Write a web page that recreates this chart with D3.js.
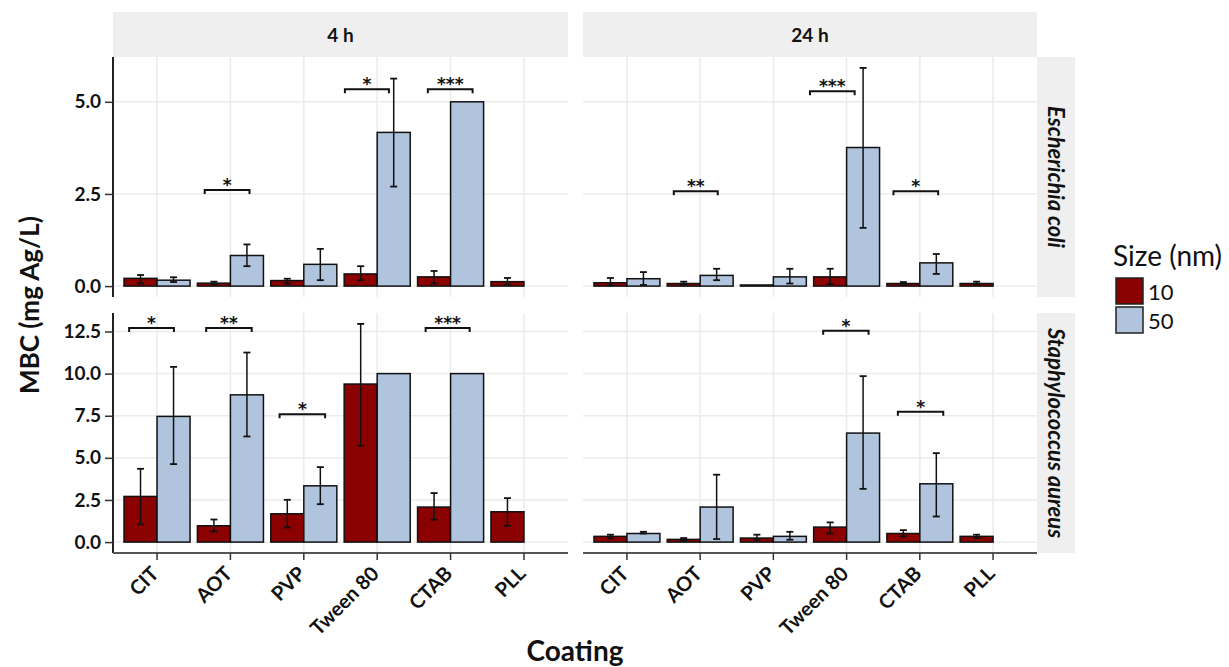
<!DOCTYPE html>
<html>
<head>
<meta charset="utf-8">
<script src="https://cdn.jsdelivr.net/npm/d3@7"></script>
<style>
  html, body { margin: 0; padding: 0; background: #fff; }
  svg { display: block; font-family: Lato, "Open Sans", sans-serif; }
</style>
</head>
<body>
<svg id="chart" width="1229" height="667"></svg>
<script>
// ---------------- data ----------------
const coatings = ["CIT", "AOT", "PVP", "Tween 80", "CTAB", "PLL"];
const sizes = ["10", "50"];
const times = ["4 h", "24 h"];
const organisms = ["Escherichia coli", "Staphylococcus aureus"];

const yTicksEcoli = [0, 2.5, 5.0];
const yTicksSaureus = [0, 2.5, 5.0, 7.5, 10.0, 12.5];

// E. coli, 4 h
const ecoli4h_10 = [0.21, 0.08, 0.15, 0.33, 0.25, 0.12];
const ecoli4h_10_err = [[0.07, 0.30], [0.05, 0.12], [0.07, 0.20], [0.16, 0.54], [0.07, 0.41], [0.04, 0.22]];
const ecoli4h_50 = [0.16, 0.83, 0.59, 4.17, 5.00, null];
const ecoli4h_50_err = [[0.11, 0.24], [0.54, 1.13], [0.16, 1.01], [2.70, 5.63], null, null];

// E. coli, 24 h
const ecoli24h_10 = [0.09, 0.07, 0.03, 0.25, 0.07, 0.07];
const ecoli24h_10_err = [[0.02, 0.22], [0.04, 0.12], null, [0.05, 0.47], [0.05, 0.11], [0.04, 0.12]];
const ecoli24h_50 = [0.20, 0.29, 0.25, 3.76, 0.63, null];
const ecoli24h_50_err = [[0.03, 0.38], [0.16, 0.47], [0.07, 0.47], [1.58, 5.92], [0.33, 0.87], null];

// S. aureus, 4 h
const saureus4h_10 = [2.71, 0.97, 1.68, 9.38, 2.08, 1.80];
const saureus4h_10_err = [[1.05, 4.35], [0.63, 1.34], [0.87, 2.51], [5.72, 12.95], [1.33, 2.91], [0.97, 2.61]];
const saureus4h_50 = [7.46, 8.74, 3.34, 10.0, 10.0, null];
const saureus4h_50_err = [[4.63, 10.40], [6.27, 11.25], [2.25, 4.45], null, null, null];

// S. aureus, 24 h
const saureus24h_10 = [0.34, 0.16, 0.24, 0.89, 0.51, 0.34];
const saureus24h_10_err = [[0.22, 0.44], [0.08, 0.24], [0.14, 0.44], [0.51, 1.17], [0.34, 0.71], [0.24, 0.44]];
const saureus24h_50 = [0.51, 2.08, 0.34, 6.47, 3.46, null];
const saureus24h_50_err = [[0.51, 0.61], [0.18, 4.00], [0.14, 0.61], [3.16, 9.85], [1.52, 5.28], null];

// significance brackets: organism index, time index, coating, height (mg Ag/L),
// start/end offsets in coating units relative to the coating position, label
const sigBrackets = [
  { org: 0, time: 0, coating: "AOT",      y: 2.61,  x1: -0.35, x2: 0.26, label: "*" },
  { org: 0, time: 0, coating: "Tween 80", y: 5.34,  x1: -0.44, x2: 0.16, label: "*" },
  { org: 0, time: 0, coating: "CTAB",     y: 5.34,  x1: -0.31, x2: 0.30, label: "***" },
  { org: 0, time: 1, coating: "AOT",      y: 2.57,  x1: -0.36, x2: 0.24, label: "**" },
  { org: 0, time: 1, coating: "Tween 80", y: 5.29,  x1: -0.50, x2: 0.11, label: "***" },
  { org: 0, time: 1, coating: "CTAB",     y: 2.57,  x1: -0.36, x2: 0.25, label: "*" },
  { org: 1, time: 0, coating: "CIT",      y: 12.70, x1: -0.38, x2: 0.23, label: "*" },
  { org: 1, time: 0, coating: "AOT",      y: 12.70, x1: -0.33, x2: 0.29, label: "**" },
  { org: 1, time: 0, coating: "PVP",      y: 7.59,  x1: -0.33, x2: 0.29, label: "*" },
  { org: 1, time: 0, coating: "CTAB",     y: 12.70, x1: -0.34, x2: 0.26, label: "***" },
  { org: 1, time: 1, coating: "Tween 80", y: 12.54, x1: -0.32, x2: 0.30, label: "*" },
  { org: 1, time: 1, coating: "CTAB",     y: 7.73,  x1: -0.30, x2: 0.32, label: "*" }
];

// assemble table
const series = [
  [ // E. coli
    [[ecoli4h_10, ecoli4h_10_err], [ecoli4h_50, ecoli4h_50_err]],
    [[ecoli24h_10, ecoli24h_10_err], [ecoli24h_50, ecoli24h_50_err]]
  ],
  [ // S. aureus
    [[saureus4h_10, saureus4h_10_err], [saureus4h_50, saureus4h_50_err]],
    [[saureus24h_10, saureus24h_10_err], [saureus24h_50, saureus24h_50_err]]
  ]
];
const yTicksByOrg = [yTicksEcoli, yTicksSaureus];

// ---------------- layout ----------------
const colX = [[113, 568], [583, 1037]];
const rowY = [[57, 297], [313, 553]];
const stripTop = [12, 57];
const stripRight = [1037, 1075];
const colors = { "10": "#8B0000", "50": "#B0C4DE" };
const gridColor = "#ebebeb";
const textColor = "#111";

const svg = d3.select("#chart");

// y scales per organism row
const yScales = organisms.map((o, r) => {
  let m = 0;
  series[r].forEach(t => t.forEach(([vals, errs]) => {
    vals.forEach(v => { if (v != null) m = Math.max(m, v); });
    errs.forEach(e => { if (e) m = Math.max(m, e[1]); });
  }));
  return d3.scaleLinear().domain([-0.05 * m, 1.05 * m]).range([rowY[r][1], rowY[r][0]]);
});

// x scales per time column
const xScales = times.map((t, c) =>
  d3.scaleBand().domain(coatings).range(colX[c]).paddingInner(0.1).paddingOuter(0.15));
const xSub = xScales.map(x => d3.scaleBand().domain(sizes).range([0, x.bandwidth()]));
const xCenter = (c, coating) => xScales[c](coating) + xScales[c].bandwidth() / 2;
const step = c => xScales[c].step();

// top strips
times.forEach((t, c) => {
  svg.append("rect").attr("x", colX[c][0]).attr("y", stripTop[0])
    .attr("width", colX[c][1] - colX[c][0]).attr("height", stripTop[1] - stripTop[0])
    .attr("fill", "#efefef");
  svg.append("text").attr("x", (colX[c][0] + colX[c][1]) / 2).attr("y", (stripTop[0] + stripTop[1]) / 2)
    .attr("text-anchor", "middle").attr("dominant-baseline", "central")
    .attr("font-weight", "bold").attr("font-size", 19).attr("fill", textColor).text(t);
});
// right strips
organisms.forEach((o, r) => {
  svg.append("rect").attr("x", stripRight[0]).attr("y", rowY[r][0])
    .attr("width", stripRight[1] - stripRight[0]).attr("height", rowY[r][1] - rowY[r][0])
    .attr("fill", "#efefef");
  const cx = (stripRight[0] + stripRight[1]) / 2, cy = (rowY[r][0] + rowY[r][1]) / 2;
  svg.append("text").attr("transform", `translate(${cx},${cy}) rotate(90)`)
    .attr("text-anchor", "middle").attr("dominant-baseline", "central")
    .attr("font-weight", "bold").attr("font-style", "italic").attr("font-size", 22)
    .attr("fill", textColor).text(o);
});

// panels
organisms.forEach((o, r) => {
  times.forEach((t, c) => {
    const x = xScales[c], y = yScales[r], xs = xSub[c];
    const g = svg.append("g");
    // grid
    g.selectAll(".hg").data(yTicksByOrg[r]).join("line")
      .attr("x1", colX[c][0]).attr("x2", colX[c][1])
      .attr("y1", d => y(d)).attr("y2", d => y(d))
      .attr("stroke", gridColor).attr("stroke-width", 1.5);
    g.selectAll(".vg").data(coatings).join("line")
      .attr("x1", d => xCenter(c, d)).attr("x2", d => xCenter(c, d))
      .attr("y1", rowY[r][0]).attr("y2", rowY[r][1])
      .attr("stroke", gridColor).attr("stroke-width", 1.5);

    // bars
    const rows = [];
    sizes.forEach((s, si) => {
      const [vals, errs] = series[r][c][si];
      coatings.forEach((cat, i) => {
        if (vals[i] != null) rows.push({ cat, size: s, v: vals[i], err: errs[i] });
      });
    });
    g.selectAll(".bar").data(rows).join("rect")
      .attr("x", d => x(d.cat) + xs(d.size))
      .attr("width", xs.bandwidth())
      .attr("y", d => y(d.v))
      .attr("height", d => y(0) - y(d.v))
      .attr("fill", d => colors[d.size])
      .attr("stroke", "#111").attr("stroke-width", 1.5);

    // error bars
    const eb = rows.filter(d => d.err);
    const cap = 3.5;
    const cxOf = d => x(d.cat) + xs(d.size) + xs.bandwidth() / 2;
    g.selectAll(".ev").data(eb).join("line")
      .attr("x1", cxOf).attr("x2", cxOf)
      .attr("y1", d => y(d.err[0])).attr("y2", d => y(d.err[1]))
      .attr("stroke", "#111").attr("stroke-width", 1.5);
    ["0", "1"].forEach(k => {
      g.selectAll(".ec" + k).data(eb).join("line")
        .attr("x1", d => cxOf(d) - cap).attr("x2", d => cxOf(d) + cap)
        .attr("y1", d => y(d.err[+k])).attr("y2", d => y(d.err[+k]))
        .attr("stroke", "#111").attr("stroke-width", 1.8);
    });

    // brackets
    const br = sigBrackets.filter(b => b.org === r && b.time === c);
    const tick = 4;
    g.selectAll(".br").data(br).join("path")
      .attr("d", b => {
        const xa = xCenter(c, b.coating) + b.x1 * step(c);
        const xb = xCenter(c, b.coating) + b.x2 * step(c);
        const yy = y(b.y);
        return `M${xa},${yy + tick}V${yy}H${xb}V${yy + tick}`;
      })
      .attr("fill", "none").attr("stroke", "#111").attr("stroke-width", 2);
    g.selectAll(".bl").data(br).join("text")
      .attr("x", b => xCenter(c, b.coating) + (b.x1 + b.x2) / 2 * step(c))
      .attr("y", b => y(b.y) + 1)
      .attr("text-anchor", "middle")
      .attr("font-family", "'DejaVu Sans', sans-serif")
      .attr("font-weight", "bold").attr("font-size", 17).attr("fill", "#111")
      .text(b => b.label);

    // axes
    if (c === 0) {
      const ax = svg.append("g").attr("transform", `translate(${colX[c][0]},0)`)
        .call(d3.axisLeft(y).tickValues(yTicksByOrg[r]).tickFormat(d3.format(".1f")).tickSize(8).tickPadding(4));
      ax.select(".domain").attr("d", `M0,${rowY[r][0]}V${rowY[r][1]}`).attr("stroke", "#222").attr("stroke-width", 2);
      ax.selectAll(".tick line").attr("stroke", "#333").attr("stroke-width", 1.5);
      ax.selectAll(".tick text").attr("font-family", "Lato, sans-serif").attr("font-weight", "bold")
        .attr("font-size", 19).attr("fill", textColor);
    }
    if (r === 1) {
      const ax = svg.append("g").attr("transform", `translate(0,${rowY[r][1]})`)
        .call(d3.axisBottom(x).tickSize(7).tickPadding(4));
      ax.select(".domain").attr("d", `M${colX[c][0]},0H${colX[c][1]}`).attr("stroke", "#555").attr("stroke-width", 2);
      ax.selectAll(".tick line").attr("stroke", "#333").attr("stroke-width", 1.5);
      ax.selectAll(".tick text").attr("font-family", "Lato, sans-serif").attr("font-weight", "bold")
        .attr("font-size", 20).attr("fill", textColor)
        .attr("text-anchor", "end").attr("y", 0).attr("dy", 0)
        .attr("transform", "translate(3,22) rotate(-45)");
    }
  });
});

// axis titles
svg.append("text")
  .attr("transform", `translate(29,${(rowY[0][0] + rowY[1][1]) / 2}) rotate(-90)`)
  .attr("text-anchor", "middle").attr("dominant-baseline", "central")
  .attr("font-weight", "bold").attr("font-size", 26).attr("fill", textColor)
  .text("MBC (mg Ag/L)");
svg.append("text")
  .attr("x", (colX[0][0] + colX[1][1]) / 2).attr("y", 661)
  .attr("text-anchor", "middle")
  .attr("font-weight", "bold").attr("font-size", 28).attr("fill", textColor)
  .text("Coating");

// legend
const lg = svg.append("g").attr("transform", "translate(1113,0)");
lg.append("text").attr("x", 0).attr("y", 266).attr("font-size", 28).attr("fill", textColor).text("Size (nm)");
sizes.forEach((s, i) => {
  lg.append("rect").attr("x", 3).attr("y", 278 + i * 29).attr("width", 27).attr("height", 26)
    .attr("fill", colors[s]).attr("stroke", "#222").attr("stroke-width", 1.5);
  lg.append("text").attr("x", 35).attr("y", 291 + i * 29).attr("dominant-baseline", "central")
    .attr("font-size", 22).attr("fill", textColor).text(s);
});
</script>
</body>
</html>
